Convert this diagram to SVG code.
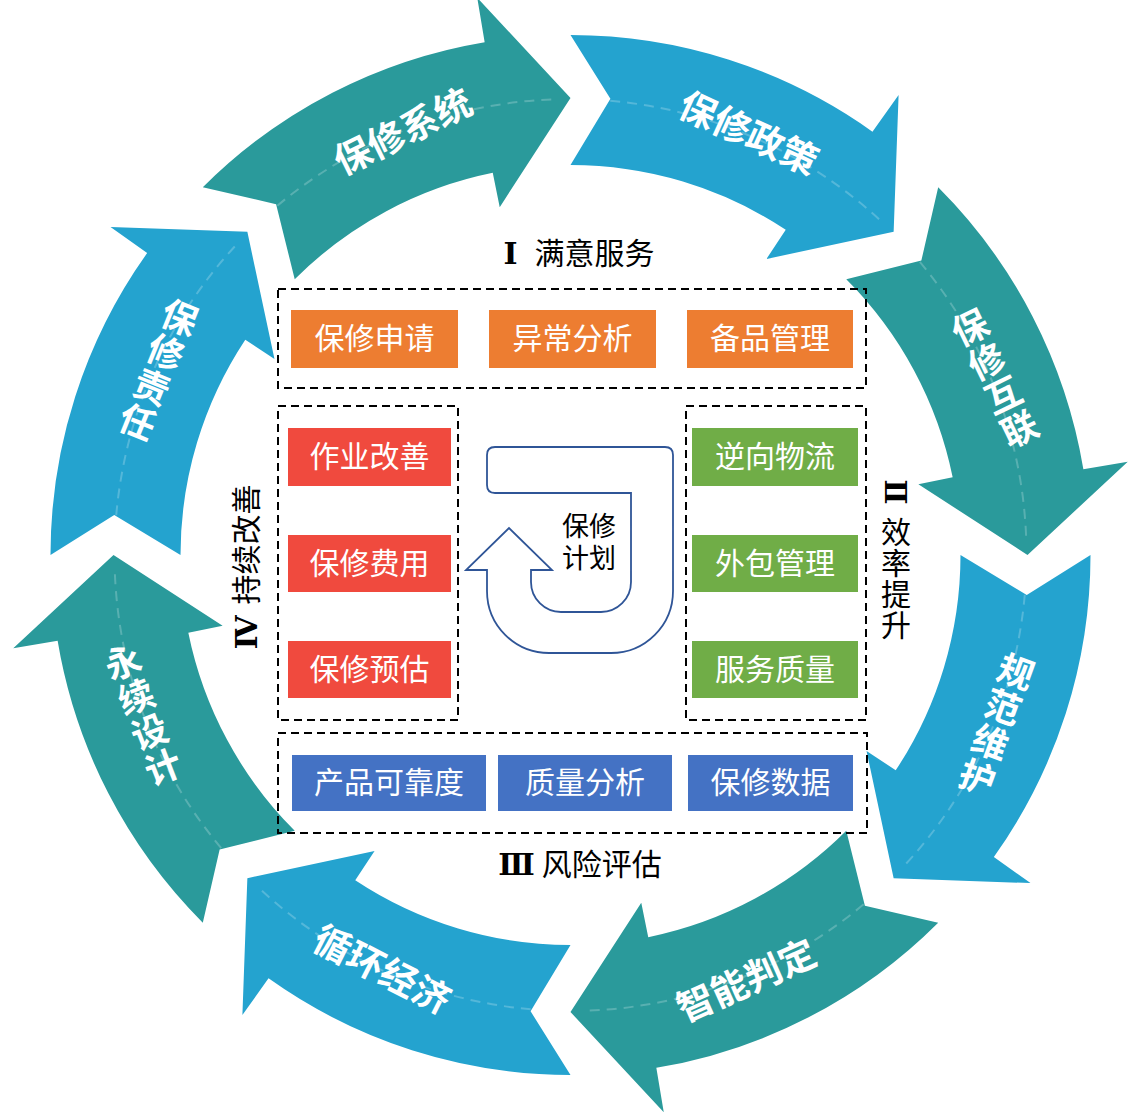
<svg xmlns="http://www.w3.org/2000/svg" xmlns:xlink="http://www.w3.org/1999/xlink" width="1136" height="1116" viewBox="0 0 1136 1116">
<style>
.teal{fill:#2A9A9B}
.blue{fill:#24A3CF}
.cl{fill:none;stroke:#FFFFFF;stroke-opacity:0.22;stroke-width:2;stroke-dasharray:10 7}
.al{font-family:"Noto Sans CJK SC","Microsoft YaHei",sans-serif;font-size:37px;font-weight:700;fill:#FFFFFF;text-anchor:middle}
.av{font-family:"Noto Sans CJK SC","Microsoft YaHei",sans-serif;font-size:36px;font-weight:700;fill:#FFFFFF;text-anchor:middle}
.dash{fill:none;stroke:#000000;stroke-width:2;stroke-dasharray:8 5}
.bt{font-family:"Noto Sans CJK SC","Microsoft YaHei",sans-serif;font-size:30px;fill:#FFFFFF;text-anchor:middle}
.sl{font-family:"Noto Sans CJK SC","Microsoft YaHei",sans-serif;font-size:30px;fill:#000000;text-anchor:middle}
.rn{font-family:"DejaVu Serif","Liberation Serif",serif;font-weight:700}
.or{fill:#ED7D31}
.rd{fill:#F04A3E}
.gr{fill:#70AD47}
.bl{fill:#4472C4}
</style>
<defs>
<path id="arw" d="M 367.70,-367.70 L 350.85,-294.40 L 275.77,-275.77 A 390 390 0 0 1 382.17,-77.75 L 347.87,-70.78 L 457,0 L 557.25,-93.25 L 512.87,-85.83 A 520 520 0 0 0 367.70,-367.70 Z"/>
<path id="cln" d="M 349.31,-293.11 A 456 456 0 0 1 455.72,-15.91"/>
</defs>

<g id="connectors">
<g id="arrow-xitong">
<use xlink:href="#arw" class="teal" transform="translate(570.5 555) rotate(-90)"/>
<use xlink:href="#cln" class="cl" transform="translate(570.5 555) rotate(-90)"/>
<text class="al" transform="translate(403 132) rotate(-26)" x="0" y="13">保修系统</text>
</g>
<g id="arrow-zhengce">
<use xlink:href="#arw" class="blue" transform="translate(570.5 555) rotate(-45)"/>
<use xlink:href="#cln" class="cl" transform="translate(570.5 555) rotate(-45)"/>
<text class="al" transform="translate(748.5 133.5) rotate(24.5)" x="0" y="13">保修政策</text>
</g>
<g id="arrow-hulian">
<use xlink:href="#arw" class="teal" transform="translate(570.5 555) rotate(0)"/>
<use xlink:href="#cln" class="cl" transform="translate(570.5 555) rotate(0)"/>
<text class="av" transform="translate(995 378.5) rotate(-26)"><tspan x="0" y="-43.25">保</tspan><tspan x="0" y="-5.75">修</tspan><tspan x="0" y="31.75">互</tspan><tspan x="0" y="69.25">联</tspan></text>
</g>
<g id="arrow-weihu">
<use xlink:href="#arw" class="blue" transform="translate(570.5 555) rotate(45)"/>
<use xlink:href="#cln" class="cl" transform="translate(570.5 555) rotate(45)"/>
<text class="av" transform="translate(996.5 725) rotate(20)"><tspan x="0" y="-43.25">规</tspan><tspan x="0" y="-5.75">范</tspan><tspan x="0" y="31.75">维</tspan><tspan x="0" y="69.25">护</tspan></text>
</g>
<g id="arrow-panding">
<use xlink:href="#arw" class="teal" transform="translate(570.5 555) rotate(90)"/>
<use xlink:href="#cln" class="cl" transform="translate(570.5 555) rotate(90)"/>
<text class="al" transform="translate(746.5 981) rotate(-24)" x="0" y="13">智能判定</text>
</g>
<g id="arrow-xunhuan">
<use xlink:href="#arw" class="blue" transform="translate(570.5 555) rotate(135)"/>
<use xlink:href="#cln" class="cl" transform="translate(570.5 555) rotate(135)"/>
<text class="al" transform="translate(382 970) rotate(27)" x="0" y="13">循环经济</text>
</g>
<g id="arrow-yongxu">
<use xlink:href="#arw" class="teal" transform="translate(570.5 555) rotate(180)"/>
<use xlink:href="#cln" class="cl" transform="translate(570.5 555) rotate(180)"/>
<text class="av" transform="translate(143 715) rotate(-21)"><tspan x="0" y="-43.25">永</tspan><tspan x="0" y="-5.75">续</tspan><tspan x="0" y="31.75">设</tspan><tspan x="0" y="69.25">计</tspan></text>
</g>
<g id="arrow-zeren">
<use xlink:href="#arw" class="blue" transform="translate(570.5 555) rotate(225)"/>
<use xlink:href="#cln" class="cl" transform="translate(570.5 555) rotate(225)"/>
<text class="av" transform="translate(158.5 370) rotate(22)"><tspan x="0" y="-43.25">保</tspan><tspan x="0" y="-5.75">修</tspan><tspan x="0" y="31.75">责</tspan><tspan x="0" y="69.25">任</tspan></text>
</g>
</g>

<g id="group-satisfaction">
<rect class="dash" x="278" y="289" width="588" height="99"/>
<text class="sl" x="579" y="264"><tspan class="rn">Ⅰ</tspan> <tspan dx="10">满意服务</tspan></text>
<g id="node-shenqing"><rect class="or" x="291" y="310" width="167" height="58"/><text class="bt" x="374.5" y="349">保修申请</text></g>
<g id="node-yichang"><rect class="or" x="489" y="310" width="167" height="58"/><text class="bt" x="572.5" y="349">异常分析</text></g>
<g id="node-beipin"><rect class="or" x="687" y="310" width="166" height="58"/><text class="bt" x="770" y="349">备品管理</text></g>
</g>

<g id="group-improve">
<rect class="dash" x="278" y="406" width="180" height="314"/>
<text class="sl" transform="translate(257 567) rotate(-90)" x="0" y="0"><tspan class="rn">Ⅳ</tspan> <tspan dx="4">持续改善</tspan></text>
<g id="node-zuoye"><rect class="rd" x="288" y="428" width="163" height="58"/><text class="bt" x="369.5" y="467">作业改善</text></g>
<g id="node-feiyong"><rect class="rd" x="288" y="535" width="163" height="57"/><text class="bt" x="369.5" y="573.5">保修费用</text></g>
<g id="node-yugu"><rect class="rd" x="288" y="641" width="163" height="57"/><text class="bt" x="369.5" y="679.5">保修预估</text></g>
</g>

<g id="group-efficiency">
<rect class="dash" x="686" y="406" width="180" height="314"/>
<text class="sl rn" transform="translate(885 492) rotate(90)" x="0" y="0">Ⅱ</text>
<text class="sl" x="896" y="517" style="writing-mode:vertical-rl;text-anchor:start;letter-spacing:1px">效率提升</text>
<g id="node-nixiang"><rect class="gr" x="692" y="428" width="166" height="58"/><text class="bt" x="775" y="467">逆向物流</text></g>
<g id="node-waibao"><rect class="gr" x="692" y="535" width="166" height="57"/><text class="bt" x="775" y="573.5">外包管理</text></g>
<g id="node-fuwu"><rect class="gr" x="692" y="641" width="166" height="57"/><text class="bt" x="775" y="679.5">服务质量</text></g>
</g>

<g id="group-risk">
<rect class="dash" x="278" y="733" width="589" height="100"/>
<text class="sl" x="580" y="875"><tspan class="rn">Ⅲ</tspan> 风险评估</text>
<g id="node-kekao"><rect class="bl" x="292" y="755" width="194" height="56"/><text class="bt" x="389" y="793">产品可靠度</text></g>
<g id="node-zhiliang"><rect class="bl" x="498" y="755" width="174" height="56"/><text class="bt" x="585" y="793">质量分析</text></g>
<g id="node-shuju"><rect class="bl" x="688" y="755" width="165" height="56"/><text class="bt" x="770.5" y="793">保修数据</text></g>
</g>

<g id="node-plan">
<path d="M 495,447 H 665 Q 673,447 673,455 V 591 A 62 62 0 0 1 611,653 H 549 A 62 62 0 0 1 487,591 V 570 H 466 L 509,528 L 552,570 H 531 V 582 A 30 30 0 0 0 561,612 H 601 A 30 30 0 0 0 631,582 V 493 H 495 Q 487,493 487,485 V 455 Q 487,447 495,447 Z" fill="#FFFFFF" stroke="#2F5597" stroke-width="1.8"/>
<text class="sl" style="font-size:27px"><tspan x="589" y="536">保修</tspan><tspan x="589" y="568">计划</tspan></text>
</g>
</svg>
